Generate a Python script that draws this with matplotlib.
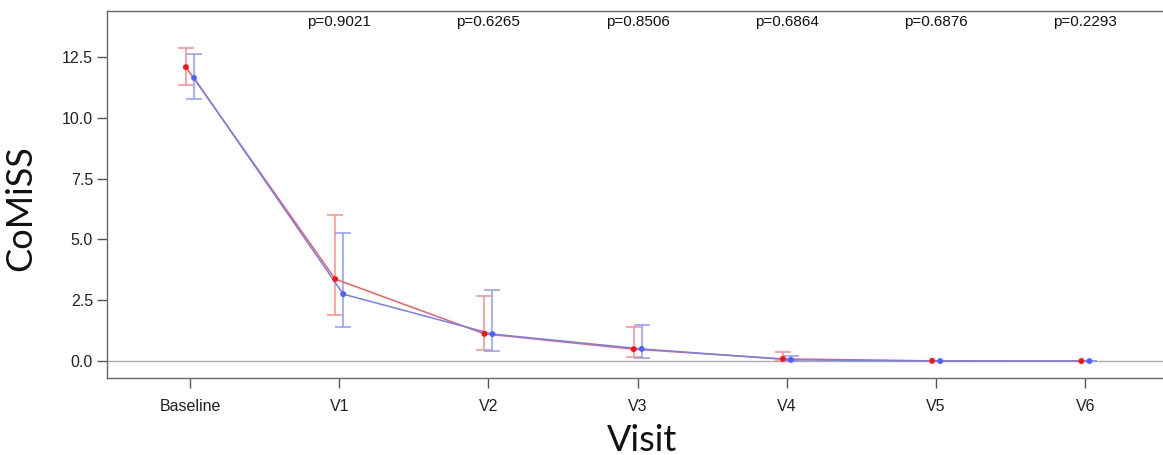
import matplotlib.pyplot as plt
import numpy as np

visits = ['Baseline', 'V1', 'V2', 'V3', 'V4', 'V5', 'V6']
p_values = ['p=0.9021', 'p=0.6265', 'p=0.8506', 'p=0.6864', 'p=0.6876', 'p=0.2293']

# group 1 (red)
red_mean = [12.08, 3.37, 1.12, 0.49, 0.09, 0.01, 0.0]
red_low = [11.35, 1.89, 0.45, 0.16, 0.0, 0.0, 0.0]
red_high = [12.87, 6.00, 2.67, 1.40, 0.37, 0.01, 0.0]

# group 2 (blue)
blue_mean = [11.64, 2.75, 1.11, 0.50, 0.05, 0.0, 0.0]
blue_low = [10.77, 1.40, 0.42, 0.12, 0.0, 0.0, 0.0]
blue_high = [12.62, 5.26, 2.92, 1.48, 0.20, 0.0, 0.0]

plt.rcParams['font.family'] = ['Liberation Sans', 'DejaVu Sans']

fig = plt.figure(figsize=(11.63, 4.55), dpi=100)
ax = fig.add_axes([0.092, 0.169, 0.908, 0.807])

x = np.arange(len(visits))
xr = x - 0.027
xb = x + 0.027

ax.axhline(0, color='#aaaaaa', lw=1, zorder=1)

def draw_group(xs, mean, low, high, line_c, err_c, pt_c):
    mean = np.array(mean)
    yerr = [mean - np.array(low), np.array(high) - mean]
    ax.errorbar(xs, mean, yerr=yerr, fmt='none', ecolor=err_c, elinewidth=1.1,
                capsize=6, capthick=1.1, zorder=2)
    ax.plot(xs, mean, color=line_c, lw=1.1, zorder=3)
    ax.scatter(xs, mean, color=pt_c, s=18, zorder=4, edgecolors='none')

draw_group(xr, red_mean, red_low, red_high, '#ff5a5a', '#ff8a8a', '#ff1010')
draw_group(xb, blue_mean, blue_low, blue_high, '#6f80ff', '#8c9aff', '#4a62ff')

for i, p in enumerate(p_values):
    ax.text(x[i + 1], 13.94, p, ha='center', va='center', fontsize=11, color='#111111')

ax.set_xlim(-0.556, 6.52)
ax.set_ylim(-0.70, 14.39)
ax.set_xticks(x)
ax.set_xticklabels(visits)
ax.set_yticks([0, 2.5, 5, 7.5, 10, 12.5])
ax.set_yticklabels(['0.0', '2.5', '5.0', '7.5', '10.0', '12.5'])
ax.tick_params(axis='both', colors='#555555', labelcolor='#222222', labelsize=11.5,
               length=7, width=1)
ax.tick_params(axis='x', pad=8)
ax.tick_params(axis='y', pad=3)

for s in ['left', 'bottom', 'top']:
    ax.spines[s].set_color('#666666')
    ax.spines[s].set_linewidth(1)
ax.spines['right'].set_visible(False)

ax.set_ylabel('CoMiSS', fontsize=26, color='#111111', family='Lato',
              ha='center', va='center')
ax.yaxis.set_label_coords(-0.082, 0.463)
ax.set_xlabel('Visit', fontsize=26, color='#111111', family='Lato',
              ha='center', va='center')
ax.xaxis.set_label_coords(0.507, -0.169)

fig.savefig('out.png', dpi=100)
